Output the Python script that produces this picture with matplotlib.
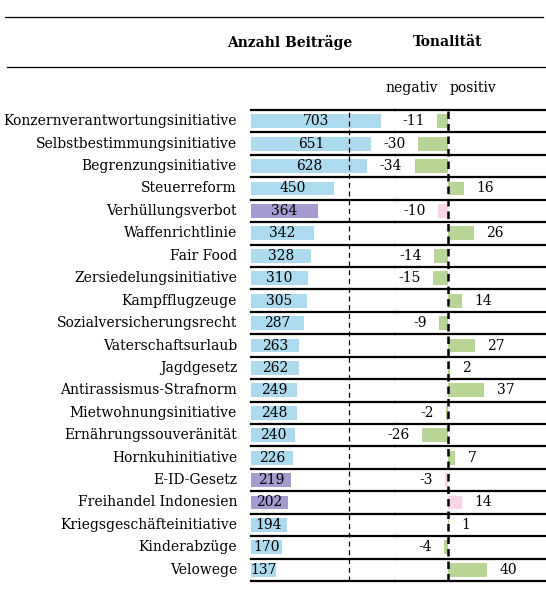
import matplotlib.pyplot as plt
from matplotlib.lines import Line2D

themen = ["Konzernverantwortungsinitiative", "Selbstbestimmungsinitiative", "Begrenzungsinitiative",
          "Steuerreform", "Verhüllungsverbot", "Waffenrichtlinie", "Fair Food",
          "Zersiedelungsinitiative", "Kampfflugzeuge", "Sozialversicherungsrecht",
          "Vaterschaftsurlaub", "Jagdgesetz", "Antirassismus-Strafnorm", "Mietwohnungsinitiative",
          "Ernährungssouveränität", "Hornkuhinitiative", "E-ID-Gesetz", "Freihandel Indonesien",
          "Kriegsgeschäfteinitiative", "Kinderabzüge", "Velowege"]
beitraege = [703, 651, 628, 450, 364, 342, 328, 310, 305, 287, 263, 262, 249, 248, 240, 226, 219, 202, 194, 170, 137]
tonalitaet = [-11, -30, -34, 16, -10, 26, -14, -15, 14, -9, 27, 2, 37, -2, -26, 7, -3, 14, 1, -4, 40]
# Vorlagen mit anderer Einfärbung (violett / rosa)
markiert = ["Verhüllungsverbot", "E-ID-Gesetz", "Freihandel Indonesien"]
referenz = 533

BLAU = "#acdaee"
VIOLETT = "#a69bd0"
GRUEN = "#b8d595"
ROSA = "#f9d5e6"
FS = 10

plt.rcParams['font.family'] = ['DejaVu Serif']
W, H = 546, 594
fig = plt.figure(figsize=(W / 100, H / 100), dpi=100)

def fx(px):
    return px / W

def fy(py):
    return 1 - py / H

top, bot = 110, 581
ax1 = fig.add_axes([fx(251), fy(bot), fx(395) - fx(251), fy(top) - fy(bot)])
ax2 = fig.add_axes([fx(395), fy(bot), fx(546) - fx(395), fy(top) - fy(bot)])

n = len(themen)
y = list(range(n))
farben1 = [VIOLETT if t in markiert else BLAU for t in themen]
farben2 = [ROSA if t in markiert else GRUEN for t in themen]

ax1.barh(y, beitraege, height=0.62, color=farben1)
ax1.set_xlim(0, 781)
for i, v in enumerate(beitraege):
    ax1.text(v / 2, i, str(v), ha="center", va="center", fontsize=FS)
ax1.axvline(referenz, color="black", lw=0.9, ls=(0, (4, 3)))

ax2.barh(y, tonalitaet, height=0.62, color=farben2)
ax2.set_xlim(-53.8, 99.5)
for i, v in enumerate(tonalitaet):
    if v < 0:
        ax2.annotate(str(v), (v, i), xytext=(-9, 0), textcoords="offset points",
                     ha="right", va="center", fontsize=FS)
    else:
        ax2.annotate(str(v), (v, i), xytext=(9, 0), textcoords="offset points",
                     ha="left", va="center", fontsize=FS)
ax2.axvline(0, color="black", lw=1.8, ls=(0, (3, 2)))

for ax in (ax1, ax2):
    ax.set_ylim(n - 0.5, -0.5)
    for k in range(n + 1):
        ax.axhline(k - 0.5, color="black", lw=1.6, clip_on=False)
    ax.axis("off")

for i, t in enumerate(themen):
    fig.text(fx(237), fy(top + (i + 0.5) * (bot - top) / n), t, ha="right", va="center", fontsize=FS)

fig.add_artist(Line2D([fx(5), fx(543)], [fy(17), fy(17)], color="black", lw=0.9))
fig.add_artist(Line2D([fx(7), fx(545)], [fy(67), fy(67)], color="black", lw=0.9))
fig.text(fx(290), fy(42), "Anzahl Beiträge", ha="center", va="center", fontsize=FS, fontweight="bold")
fig.text(fx(448), fy(42), "Tonalität", ha="center", va="center", fontsize=FS, fontweight="bold")
fig.text(fx(412), fy(88), "negativ", ha="center", va="center", fontsize=FS)
fig.text(fx(473), fy(88), "positiv", ha="center", va="center", fontsize=FS)

fig.savefig("out.png", dpi=100)
